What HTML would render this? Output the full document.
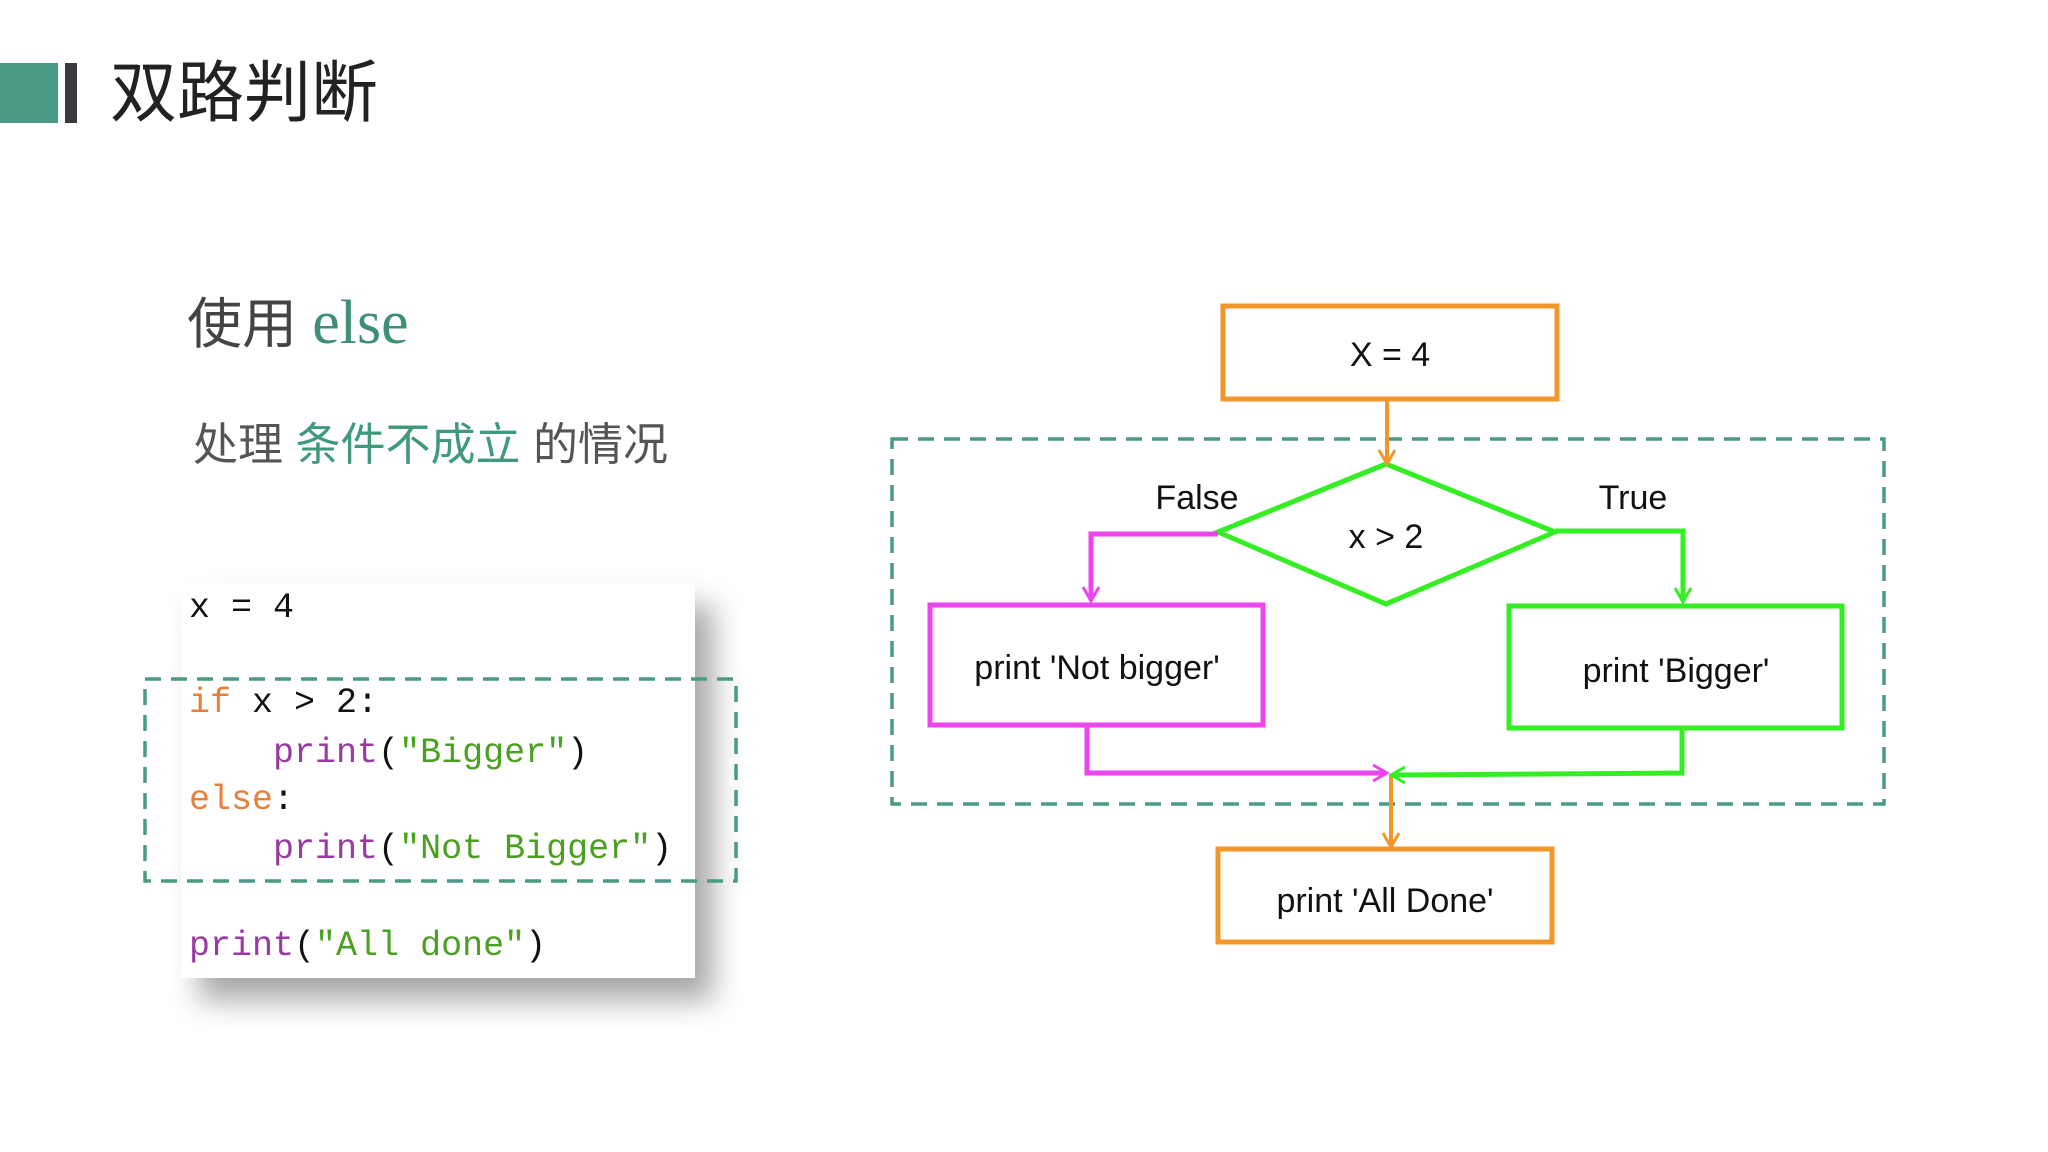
<!DOCTYPE html>
<html><head><meta charset="utf-8"><style>
body{margin:0;width:2048px;height:1152px;background:#fff;position:relative;overflow:hidden;font-family:"Liberation Sans","Noto Sans CJK SC",sans-serif}
.a{position:absolute;white-space:nowrap}
.code{position:absolute;left:181px;top:583px;width:514px;height:395px;background:#fff;box-shadow:18px 22px 28px rgba(0,0,0,0.35)}
.cl{position:absolute;left:8px;font-family:"Liberation Mono",monospace;font-size:35px;line-height:40px;color:#111;white-space:pre}
.k{color:#e8803a}.p{color:#9a3aa0}.s{color:#4aa020}
</style></head><body>
<div class="a" style="left:0;top:63px;width:58px;height:60px;background:#4a9a85"></div>
<div class="a" style="left:65px;top:63px;width:12px;height:60px;background:#3a3a3e"></div>
<div class="a" style="left:110px;top:56px;font-size:67px;color:#222;line-height:76px">双路判断</div>
<div class="a" style="left:187px;top:290px;font-size:55px;color:#444;line-height:66px">使用 <span style="font-family:'Liberation Serif',serif;color:#3f8f78;font-size:62px">else</span></div>
<div class="a" style="left:193px;top:418px;font-size:45px;color:#555;line-height:54px">处理 <span style="color:#3f9a7a">条件不成立</span> 的情况</div>
<div class="code">
<div class="cl" style="top:5px">x = 4</div>
<div class="cl" style="top:100px"><span class="k">if</span> x &gt; 2:</div>
<div class="cl" style="top:150px">    <span class="p">print</span>(<span class="s">"Bigger"</span>)</div>
<div class="cl" style="top:197px"><span class="k">else</span>:</div>
<div class="cl" style="top:246px">    <span class="p">print</span>(<span class="s">"Not Bigger"</span>)</div>
<div class="cl" style="top:343px"><span class="p">print</span>(<span class="s">"All done"</span>)</div>
</div>
<svg class="a" style="left:0;top:0" width="2048" height="1152" viewBox="0 0 2048 1152">
<g fill="none" stroke="#4a9a85" stroke-width="3.5" stroke-dasharray="16,10">
<rect x="145" y="679" width="591" height="202"/>
<rect x="892" y="439" width="992" height="365"/>
</g>
<g fill="none" stroke-width="5">
<rect x="1223" y="306" width="334" height="93" stroke="#f0962a"/>
<rect x="1218" y="849" width="334" height="93" stroke="#f0962a"/>
<polygon points="1218,532 1386,464 1555,532 1386,604" stroke="#33ee22"/>
<rect x="930" y="605" width="333" height="120" stroke="#ee44ee"/>
<rect x="1509" y="606" width="333" height="122" stroke="#33ee22"/>
<polyline points="1387,399 1387,462" stroke="#f0962a" stroke-width="4"/>
<polyline points="1218,534 1091,534 1091,599" stroke="#ee44ee"/>
<polyline points="1555,531 1683,531 1683,600" stroke="#33ee22"/>
<polyline points="1087,725 1087,773 1385,773" stroke="#ee44ee"/>
<polyline points="1682,728 1682,773 1393,775" stroke="#33ee22"/>
<polyline points="1391,775 1391,845" stroke="#f0962a" stroke-width="4"/>
</g>
<g fill="none" stroke-width="3">
<path d="M1379,450 L1387,464 L1395,450" stroke="#f0962a"/>
<path d="M1083,587 L1091,601 L1099,587" stroke="#ee44ee"/>
<path d="M1675,588 L1683,602 L1691,588" stroke="#33ee22"/>
<path d="M1373,765 L1387,773 L1373,781" stroke="#ee44ee"/>
<path d="M1405,767 L1391,775 L1405,783" stroke="#33ee22"/>
<path d="M1383,833 L1391,847 L1399,833" stroke="#f0962a"/>
</g>
<g font-family="Liberation Sans, sans-serif" font-size="34" fill="#111" text-anchor="middle">
<text x="1390" y="366">X = 4</text>
<text x="1386" y="548">x &gt; 2</text>
<text x="1197" y="509">False</text>
<text x="1633" y="509">True</text>
<text x="1097" y="679">print 'Not bigger'</text>
<text x="1676" y="682">print 'Bigger'</text>
<text x="1385" y="912">print 'All Done'</text>
</g>
</svg>
</body></html>
